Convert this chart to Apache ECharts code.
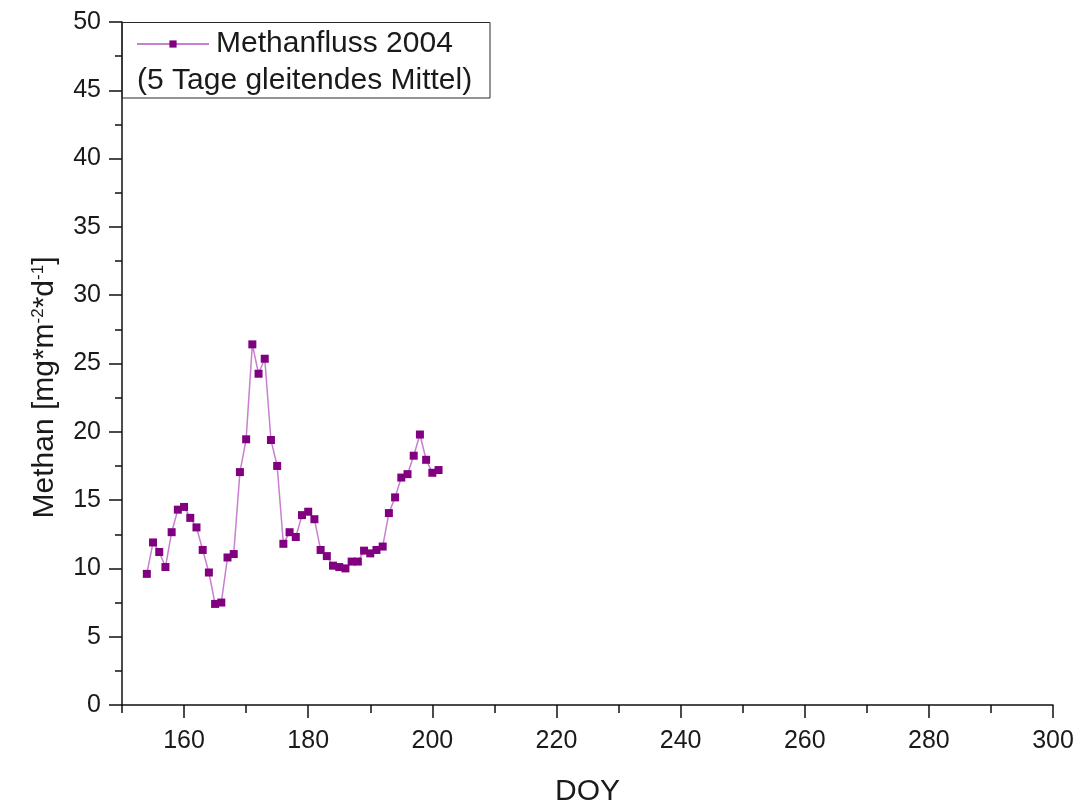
<!DOCTYPE html>
<html>
<head>
<meta charset="utf-8">
<script src="https://cdn.jsdelivr.net/npm/echarts@6/dist/echarts.min.js"></script>
<style>
  html, body { margin: 0; padding: 0; background: #ffffff; }
  #chart { width: 1083px; height: 805px; }
</style>
</head>
<body>
<div id="chart"></div>
<script>
// Day of year (DOY) and 5-day running mean of methane flux, 2004
const days = [
  154, 155, 156, 157, 158, 159, 160, 161, 162, 163, 164, 165, 166, 167, 168, 169,
  170, 171, 172, 173, 174, 175, 176, 177, 178, 179, 180, 181, 182, 183, 184, 185,
  186, 187, 188, 189, 190, 191, 192, 193, 194, 195, 196, 197, 198, 199, 200, 201
];
const methanFlux = [
  9.6, 11.9, 11.2, 10.1, 12.65, 14.3, 14.5, 13.7, 13.0, 11.35, 9.7, 7.4, 7.5, 10.8, 11.05, 17.05,
  19.45, 26.4, 24.25, 25.35, 19.4, 17.5, 11.8, 12.65, 12.3, 13.9, 14.15, 13.6, 11.35, 10.9, 10.2, 10.1,
  10.0, 10.5, 10.5, 11.3, 11.1, 11.35, 11.6, 14.05, 15.2, 16.65, 16.9, 18.25, 19.8, 17.95, 17.0, 17.2
];
const xMajorTicks = [160, 180, 200, 220, 240, 260, 280, 300];
const seriesName = 'Methanfluss 2004';
const seriesNote = '(5 Tage gleitendes Mittel)';

const FONT = '"Liberation Sans", Arial, sans-serif';
const INK = '#1a1a1a';

const chart = echarts.init(document.getElementById('chart'), null, { renderer: 'canvas' });

chart.setOption({
  animation: false,
  backgroundColor: '#ffffff',
  grid: { left: 122, right: 30, top: 22, bottom: 100, containLabel: false, outerBoundsMode: 'none' },
  legend: {
    show: true,
    left: 136,
    top: 28,
    padding: 0,
    itemWidth: 72,
    itemHeight: 9,
    itemGap: 0,
    data: [seriesName],
    textStyle: { fontFamily: FONT, fontSize: 30, color: INK, lineHeight: 32, padding: [0, 0, 0, 2] }
  },
  graphic: [
    {
      type: 'rect',
      z: 1,
      shape: { x: 122, y: 22.5, width: 368, height: 75.5 },
      style: { fill: null, stroke: '#2a2a2a', lineWidth: 1 }
    },
    {
      type: 'text',
      z: 5,
      left: 137,
      top: 66,
      style: { text: seriesNote, fontFamily: FONT, fontSize: 30, fill: INK }
    }
  ],
  xAxis: [
    {
      type: 'value',
      min: 150,
      max: 300,
      interval: 10,
      name: 'DOY',
      nameLocation: 'middle',
      nameGap: 72,
      nameTextStyle: { fontFamily: FONT, fontSize: 30, color: INK },
      axisLine: { show: true, onZero: false, lineStyle: { color: '#111111', width: 1.5 } },
      axisTick: { show: true, length: 8, lineStyle: { color: '#111111', width: 1.5 } },
      axisLabel: {
        margin: 24,
        fontFamily: FONT,
        fontSize: 25,
        color: INK,
        formatter: function (v) { return v % 20 === 0 ? String(v) : ''; }
      },
      splitLine: { show: false }
    },
    {
      // longer major ticks every 20 days
      type: 'value',
      position: 'bottom',
      min: 150,
      max: 300,
      axisLine: { show: false },
      axisTick: { show: true, length: 13, customValues: xMajorTicks, lineStyle: { color: '#111111', width: 1.5 } },
      axisLabel: { show: false },
      splitLine: { show: false }
    }
  ],
  yAxis: {
    type: 'value',
    min: 0,
    max: 50,
    interval: 5,
    name: 'Methan [mg*m{sup|-2}*d{sup|-1}]',
    nameLocation: 'middle',
    nameRotate: 90,
    nameGap: 62,
    nameTextStyle: {
      fontFamily: FONT,
      fontSize: 30,
      color: INK,
      padding: [0, 48, 0, 0],
      rich: {
        sup: { fontFamily: FONT, fontSize: 17, color: INK, verticalAlign: 'top', lineHeight: 17 }
      }
    },
    axisLine: { show: true, onZero: false, lineStyle: { color: '#111111', width: 1.5 } },
    axisTick: { show: true, length: 13, lineStyle: { color: '#111111', width: 1.5 } },
    minorTick: { show: true, splitNumber: 2, length: 7, lineStyle: { color: '#111111', width: 1.5 } },
    axisLabel: { margin: 21, fontFamily: FONT, fontSize: 25, color: INK },
    splitLine: { show: false }
  },
  series: [
    {
      name: seriesName,
      type: 'line',
      xAxisIndex: 0,
      data: days.map(function (d, i) { return [d, methanFlux[i]]; }),
      symbol: 'rect',
      symbolSize: 8,
      showAllSymbol: true,
      lineStyle: { color: '#c77fcf', width: 1.5 },
      itemStyle: { color: '#800080' }
    }
  ]
});
</script>
</body>
</html>
